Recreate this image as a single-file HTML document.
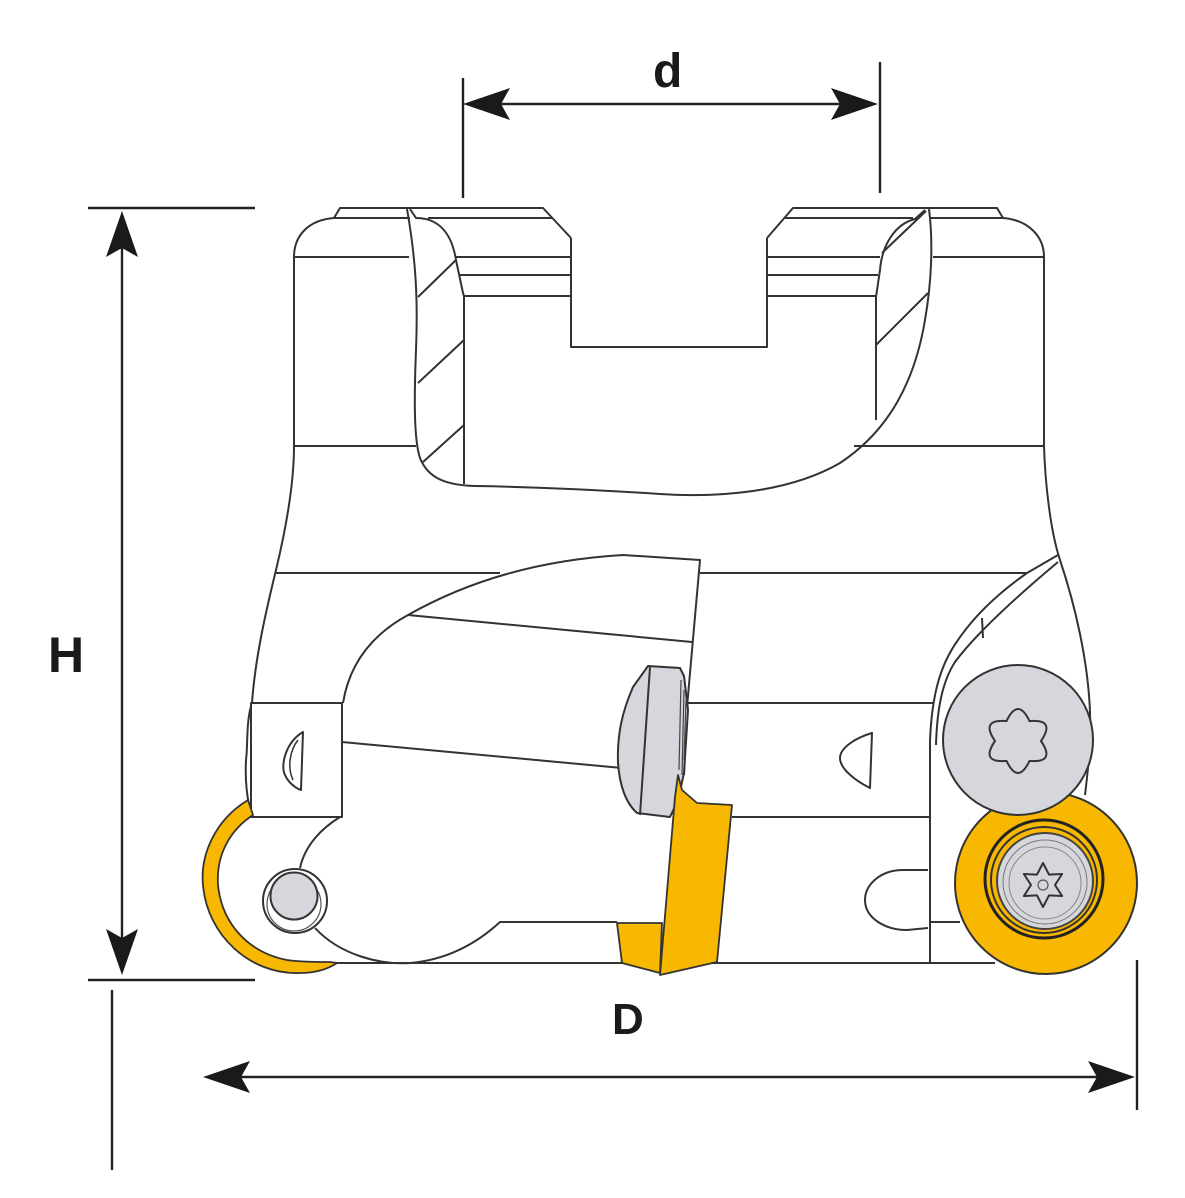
<!DOCTYPE html>
<html>
<head>
<meta charset="utf-8">
<style>
  html,body{margin:0;padding:0;background:#fff;}
  svg{display:block;}
  text{font-family:"Liberation Sans",sans-serif;font-weight:bold;fill:#1a1a1a;}
</style>
</head>
<body>
<svg width="1185" height="1198" viewBox="0 0 1185 1198" xmlns="http://www.w3.org/2000/svg">
<rect width="1185" height="1198" fill="#fff"/>

<!-- ===== Dimension lines ===== -->
<g stroke="#222" stroke-width="2.4" fill="none">
  <!-- d -->
  <line x1="463" y1="78" x2="463" y2="198"/>
  <line x1="880" y1="62" x2="880" y2="193"/>
  <line x1="500" y1="104" x2="842" y2="104"/>
  <!-- H -->
  <line x1="88" y1="208" x2="255" y2="208"/>
  <line x1="88" y1="980" x2="255" y2="980"/>
  <line x1="122" y1="245" x2="122" y2="940"/>
  <line x1="112" y1="990" x2="112" y2="1170"/>
  <!-- D -->
  <line x1="1137" y1="960" x2="1137" y2="1110"/>
  <line x1="240" y1="1077" x2="1098" y2="1077"/>
</g>
<g fill="#1a1a1a">
  <path d="M463,104 L510,88 L501,104 L510,120 Z"/>
  <path d="M878,104 L831,88 L840,104 L831,120 Z"/>
  <path d="M122,211 L106,257 L122,248 L138,257 Z"/>
  <path d="M122,975 L106,929 L122,938 L138,929 Z"/>
  <path d="M203,1077 L250,1061 L241,1077 L250,1093 Z"/>
  <path d="M1135,1077 L1088,1061 L1097,1077 L1088,1093 Z"/>
</g>
<text x="653" y="87" font-size="48">d</text>
<text x="48" y="672" font-size="50">H</text>
<text x="612" y="1034" font-size="44">D</text>

<!-- ===== Body lines ===== -->
<g stroke="#333" stroke-width="2" fill="none" stroke-linejoin="round">
  <!-- top plates -->
  <path d="M334,218 L340,208 L543,208 L571,238"/>
  <line x1="334" y1="218" x2="410" y2="218"/>
  <line x1="428" y1="218" x2="552" y2="218"/>
  <path d="M767,238 L793,208 L997,208 L1003,218"/>
  <line x1="785" y1="218" x2="913" y2="218"/>
  <line x1="930" y1="218" x2="1003" y2="218"/>
  <!-- corners and walls -->
  <path d="M334,218 C308,220 294,236 294,257 L294,446 C294,480 288,520 276,570 C265,615 255,660 252,703"/>
  <path d="M1003,218 C1028,220 1044,236 1044,257 L1044,446 C1045,480 1050,530 1060,560 C1075,605 1088,660 1090,712 C1091,745 1088,770 1085,795"/>
  <!-- slot -->
  <path d="M571,238 L571,347 L767,347 L767,238"/>
  <!-- horizontal bands -->
  <line x1="294" y1="257" x2="409" y2="257"/>
  <line x1="456" y1="257" x2="571" y2="257"/>
  <line x1="767" y1="257" x2="880" y2="257"/>
  <line x1="933" y1="257" x2="1044" y2="257"/>
  <line x1="459" y1="275" x2="571" y2="275"/>
  <line x1="767" y1="275" x2="878" y2="275"/>
  <line x1="464" y1="296" x2="571" y2="296"/>
  <line x1="767" y1="296" x2="876" y2="296"/>
  <line x1="294" y1="446" x2="416" y2="446"/>
  <line x1="854" y1="446" x2="1044" y2="446"/>
  <!-- cutaway outline -->
  <path d="M407,209 C416,260 418,300 416,350 C414,400 414,440 420,458 C428,478 445,485 475,486 C540,487 600,490 660,494 C720,498 790,492 840,463 C890,430 915,380 925,320 C932,280 933,240 929,209"/>
  <!-- left hatched region -->
  <path d="M410,209 L416,218 C440,218 452,235 456,260 L463,293 L464,296 L464,484"/>
  <line x1="418" y1="297" x2="456" y2="260"/>
  <line x1="418" y1="383" x2="464" y2="340"/>
  <line x1="423" y1="462" x2="464" y2="425"/>
  <!-- right hatched region -->
  <path d="M876,420 L876,297 L880,270 C882,245 895,224 915,219 L925,210"/>
  <line x1="882" y1="253" x2="926" y2="211"/>
  <line x1="876" y1="345" x2="928" y2="293"/>

  <!-- lower body -->
  <line x1="276" y1="573" x2="500" y2="573"/>
  <line x1="700" y1="573" x2="1027" y2="573"/>
  <!-- pocket -->
  <path d="M343,703 C350,660 375,633 408,615 C470,580 540,560 623,555 L700,560 L687,707 L684,775"/>
  <line x1="408" y1="615" x2="692" y2="642"/>
  <line x1="342" y1="742" x2="622" y2="768"/>
  <!-- block -->
  <rect x="251" y="703" width="91" height="114"/>
  <path d="M251,706 C246,725 248,745 246,760 C245,780 247,795 249,805"/>
  <!-- left half moon -->
  <path d="M303,732 C286,742 280,765 285,775 C288,782 295,788 301,790 Z"/>
  <path d="M298,740 C290,750 287,767 293,780" stroke-width="1.5"/>
  <!-- lower pocket -->
  <path d="M340,817 C322,828 305,845 300,868"/>
  <path d="M315,928 C340,955 380,965 410,963 C445,960 475,945 500,922 L617,922"/>
  <line x1="333" y1="963" x2="995" y2="963"/>
  <!-- right lower -->
  <line x1="688" y1="703" x2="933" y2="703"/>
  <line x1="732" y1="817" x2="930" y2="817"/>
  <line x1="930" y1="922" x2="960" y2="922"/>
  <path d="M1058,555 L1027,573 C1000,592 975,615 958,640 C940,665 932,695 930,740 L930,963"/>
  <path d="M1058,562 C1015,598 975,635 955,662 C942,682 937,710 936,745"/>
  <line x1="982" y1="618" x2="983" y2="638"/>
  <!-- right D shape -->
  <path d="M872,733 C855,738 840,748 840,758 C840,770 858,782 870,788 Z"/>
  <!-- right lobe -->
  <path d="M928,870 L903,870 C880,870 865,885 865,900 C865,918 885,930 907,930 L928,928"/>
</g>

<!-- ===== Left crescent insert ===== -->
<path d="M248,800 C215,820 200,855 203,885 C207,935 250,975 300,973 C315,973 328,969 337,963 L330,962 C315,962 300,962 287,960 C250,953 222,925 218,885 C216,855 230,830 253,815 Z" fill="#f8b700" stroke="#333" stroke-width="1.8" stroke-linejoin="round"/>

<!-- ===== Left pin ===== -->
<circle cx="295" cy="901" r="32" fill="#fff" stroke="#333" stroke-width="2"/>
<circle cx="294" cy="904" r="27" fill="none" stroke="#555" stroke-width="1.2"/>
<circle cx="294" cy="896" r="23.5" fill="#d6d7dc" stroke="#333" stroke-width="2"/>

<!-- ===== Center clamp (grey) ===== -->
<path d="M648,666 L680,668 L684,676 L688,710 L684,773 L678,800 L670,817 L637,813 C628,805 620,790 618,763 C617,735 622,712 633,687 Z" fill="#d6d7dc" stroke="#333" stroke-width="2" stroke-linejoin="round"/>
<line x1="650" y1="667" x2="640" y2="815" stroke="#333" stroke-width="2"/>
<g stroke="#444" stroke-width="1.2">
  <line x1="681" y1="680" x2="679" y2="770"/>
  <line x1="684" y1="690" x2="682" y2="775"/>
  <line x1="686" y1="700" x2="684" y2="760"/>
</g>

<!-- ===== Center yellow insert ===== -->
<path d="M617,923 L662,923 L660,973 L622,963 Z" fill="#f8b700" stroke="#333" stroke-width="1.8" stroke-linejoin="round"/>
<path d="M678,775 L682,790 L697,803 L732,805 L717,962 L660,975 L675,797 Z" fill="#f8b700" stroke="#333" stroke-width="1.8" stroke-linejoin="round"/>

<!-- ===== Right round insert ===== -->
<circle cx="1046" cy="883" r="91" fill="#f8b700" stroke="#333" stroke-width="2"/>
<circle cx="1044" cy="879" r="59" fill="#f8b700" stroke="#222" stroke-width="3"/>
<circle cx="1044" cy="880" r="53" fill="none" stroke="#333" stroke-width="2"/>
<circle cx="1045" cy="881" r="48" fill="#d6d7dc" stroke="#444" stroke-width="2"/>
<circle cx="1045" cy="882" r="42" fill="none" stroke="#777" stroke-width="1"/>
<circle cx="1045" cy="883" r="36" fill="none" stroke="#888" stroke-width="1"/>
<path d="M1043,863 L1049,874.6 L1062.1,874 L1055,885 L1062.1,896 L1049,895.4 L1043,907 L1037,895.4 L1023.9,896 L1031,885 L1023.9,874 L1037,874.6 Z" fill="none" stroke="#333" stroke-width="2" stroke-linejoin="round"/>
<circle cx="1043" cy="885" r="5" fill="none" stroke="#555" stroke-width="1.2"/>

<!-- ===== Top right screw ===== -->
<circle cx="1018" cy="740" r="75" fill="#d6d7dc" stroke="#333" stroke-width="2"/>
<path d="M1006.5,721.1 Q1018,697 1029.5,721.1 Q1056.1,719 1041,741 Q1056.1,763 1029.5,760.9 Q1018,785 1006.5,760.9 Q979.9,763 995,741 Q979.9,719 1006.5,721.1 Z" fill="none" stroke="#333" stroke-width="2" stroke-linejoin="round"/>
</svg>
</body>
</html>
